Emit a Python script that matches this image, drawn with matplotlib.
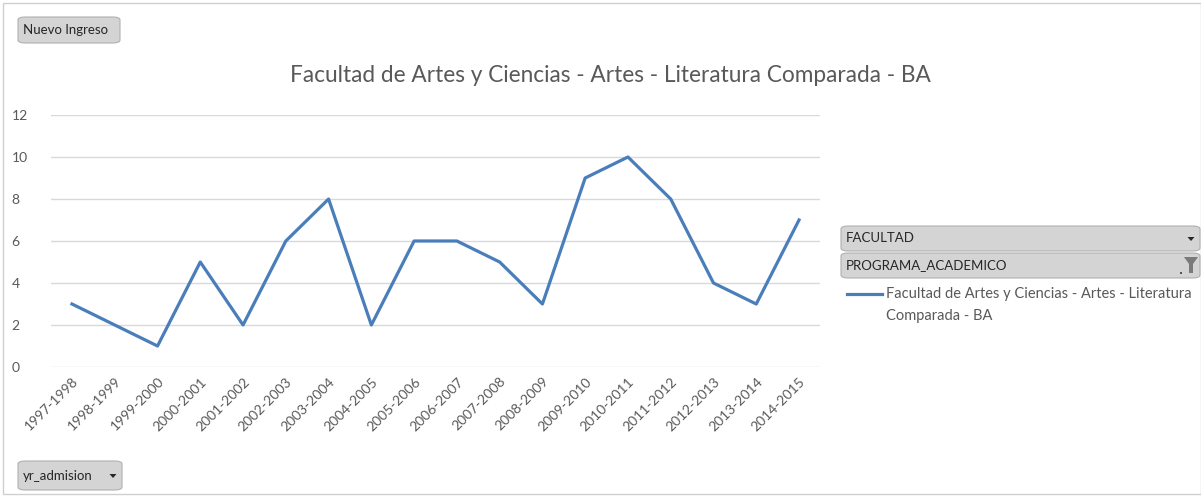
import matplotlib.pyplot as plt
from matplotlib.patches import FancyBboxPatch, Rectangle, Polygon

years = ['1997-1998', '1998-1999', '1999-2000', '2000-2001', '2001-2002', '2002-2003',
         '2003-2004', '2004-2005', '2005-2006', '2006-2007', '2007-2008', '2008-2009',
         '2009-2010', '2010-2011', '2011-2012', '2012-2013', '2013-2014', '2014-2015']
ingresos = [3, 2, 1, 5, 2, 6, 8, 2, 6, 6, 5, 3, 9, 10, 8, 4, 3, 7]
titulo = 'Facultad de Artes y Ciencias - Artes - Literatura Comparada - BA'

plt.rcParams['font.family'] = ['Lato', 'DejaVu Sans']
W, H = 1201, 497
fig = plt.figure(figsize=(W / 100, H / 100), dpi=100)

def px(x, y):
    # pixel coords (top-left origin) -> figure fraction
    return x / W, 1 - y / H

# plot area
l, b = px(50.6, 367)
r, t = px(820.4, 115)
ax = fig.add_axes([l, b, r - l, t - b])
x = list(range(len(years)))
ax.plot(x, ingresos, color='#4A7EBB', lw=2.3, solid_joinstyle='round')
ax.set_xlim(-0.5, len(years) - 0.5)
ax.set_ylim(0, 12)
ax.set_yticks(range(0, 13, 2))
ax.set_xticks(x)
ax.set_xticklabels(years, rotation=45, ha='right', rotation_mode='anchor')
ax.tick_params(axis='both', length=0, labelsize=10, labelcolor='#595959')
ax.tick_params(axis='y', pad=28)
ax.tick_params(axis='x', pad=6)
for lab in ax.get_yticklabels():
    lab.set_horizontalalignment('left')
ax.grid(axis='y', color='#D9D9D9', lw=1)
ax.set_axisbelow(True)
for s in ax.spines.values():
    s.set_visible(False)

# title
tx, ty = px(610, 76)
fig.text(tx, ty, titulo, ha='center', va='center', fontsize=16.3, color='#595959')

# outer border
fig.patches.append(Rectangle(px(3, 494), (W - 3) / W, 491 / H, transform=fig.transFigure,
                             fill=False, ec='#D0D0D0', lw=1))

def boton(x0, y0, x1, y1, texto, flecha=False, fs=9.5):
    bx, by = px(x0, y1)
    w, h = (x1 - x0) / W, (y1 - y0) / H
    fig.patches.append(FancyBboxPatch((bx, by), w, h, transform=fig.transFigure,
                                      boxstyle='round,pad=0,rounding_size=0.006',
                                      fc='#D4D4D4', ec='#B0B0B0', lw=0.8))
    cx, cy = px(x0 + 5, (y0 + y1) / 2)
    fig.text(cx, cy, texto, ha='left', va='center', fontsize=fs, color='#262626')
    if flecha:
        # small down triangle
        fx, fy = x1 - 9, (y0 + y1) / 2
        pts = [px(fx - 3.5, fy - 1.5), px(fx + 3.5, fy - 1.5), px(fx, fy + 2.5)]
        fig.patches.append(Polygon(pts, closed=True, transform=fig.transFigure,
                                   fc='#262626', ec='none'))

boton(18, 17, 120, 43, 'Nuevo Ingreso')
boton(18, 461, 122, 490, 'yr_admision', True)
boton(841, 226, 1200, 251, 'FACULTAD', True)
boton(841, 253, 1200, 278, 'PROGRAMA_ACADEMICO')
# filter funnel icon
embudo = [px(1184, 257), px(1198, 257), px(1193, 264), px(1193, 273),
          px(1189, 273), px(1189, 264)]
fig.patches.append(Polygon(embudo, closed=True, transform=fig.transFigure,
                           fc='#7A7A7A', ec='none'))
fig.patches.append(Rectangle(px(1180, 274), 2 / W, 2 / H, transform=fig.transFigure,
                             fc='#555555', ec='none'))

# legend
lx0, ly = px(847, 294)
lx1, _ = px(882, 294)
fig.lines.append(plt.Line2D([lx0, lx1], [ly, ly], transform=fig.transFigure,
                            color='#4A7EBB', lw=2.3))
tx, ty = px(886, 294)
fig.text(tx, ty, 'Facultad de Artes y Ciencias - Artes - Literatura', ha='left',
         va='center', fontsize=10.5, color='#595959')
tx, ty = px(886, 316)
fig.text(tx, ty, 'Comparada - BA', ha='left', va='center', fontsize=10.5, color='#595959')

fig.savefig('out.png', dpi=100)
